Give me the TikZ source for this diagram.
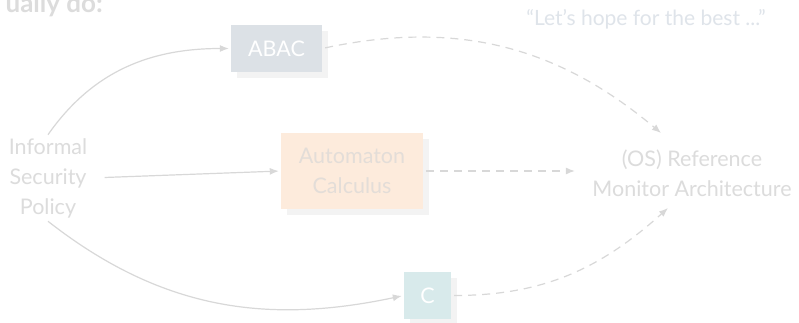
\documentclass[tikz,border=0pt]{standalone}
\usepackage{fontspec}
\setmainfont{Lato}
\usetikzlibrary{arrows.meta,shadows,calc}
\definecolor{txtgray}{HTML}{DCDCDC}
\definecolor{linegray}{HTML}{D8D8D8}
\definecolor{shadowgray}{HTML}{F3F3F3}
\definecolor{abacfill}{HTML}{DCE1E6}
\definecolor{autofill}{HTML}{FDEBDC}
\definecolor{autotxt}{HTML}{E3DDD8}
\definecolor{cfill}{HTML}{D8EAEB}
\definecolor{quotecol}{HTML}{DFE4EA}
\begin{document}
\begin{tikzpicture}[x=1pt,y=-1pt,
  lbl/.style={text=txtgray,align=center,font=\fontsize{21.5}{30}\selectfont},
  boxnode/.style={inner sep=0pt,align=center,font=\fontsize{21.5}{30}\selectfont,
    drop shadow={shadow xshift=6pt,shadow yshift=-6pt,fill=shadowgray,opacity=1}},
  arr/.style={draw=linegray,line width=1.2pt,-{Latex[length=9pt,width=7pt]}},
  dashedarr/.style={arr,dash pattern=on 8pt off 6pt}]
\clip (0,0) rectangle (799,323);
\fill[white] (0,0) rectangle (799,323);
\node[anchor=base east,inner sep=0pt,text=txtgray,font=\bfseries\fontsize{26}{30}\selectfont] (title) at (103,13) {ually do:};
\node[text=quotecol,font=\fontsize{21}{30}\selectfont] (quote) at (646,19) {“Let’s hope for the best ...”};
\node[lbl] (inf) at (48,178) {Informal\\Security\\Policy};
\node[lbl] (os) at (692,173) {(OS) Reference\\Monitor Architecture};
\node[boxnode,fill=abacfill,text=white,minimum width=91pt,minimum height=47pt] (abac) at (276.5,48.5) {ABAC};
\node[boxnode,fill=autofill,text=autotxt,minimum width=142pt,minimum height=76pt] (auto) at (352,171) {Automaton\\Calculus};
\node[boxnode,fill=cfill,text=white,minimum width=47pt,minimum height=47pt] (c) at (427.5,295.5) {C};
\coordinate (osA) at (661,133);
\coordinate (osB) at (668,208);
\draw[arr,shorten >=2pt] (inf.north) to[out=55,in=180] (abac.west);
\draw[arr,shorten <=14pt,shorten >=2pt] (inf.east) -- (auto.west);
\draw[arr,shorten >=2pt] (inf.south) to[out=-38,in=192] (c.west);
\draw[dashedarr,shorten <=3pt] (abac.east) to[out=12,in=140] (osA);
\draw[dashedarr,shorten <=3pt,shorten >=14pt] (auto.east) -- (os.west |- auto.east);
\draw[dashedarr,shorten <=3pt] (c.east) to[out=0,in=222] (osB);
\end{tikzpicture}
\end{document}
